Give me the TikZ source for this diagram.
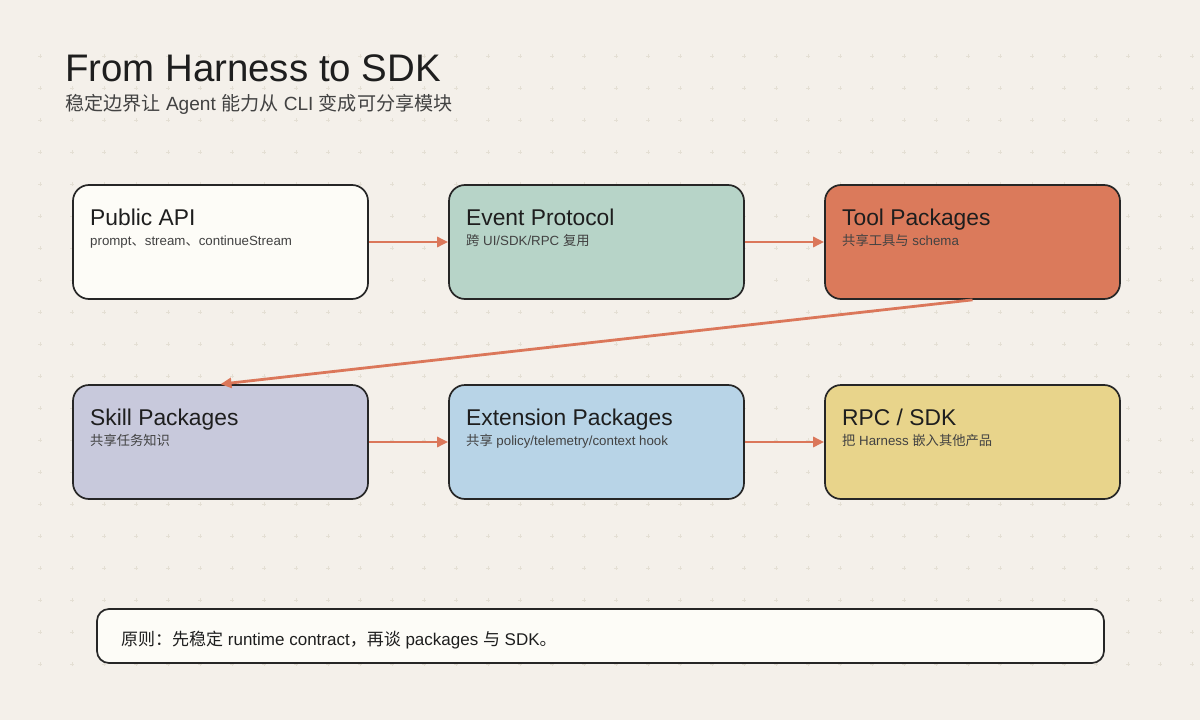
\documentclass[tikz,border=0pt]{standalone}
\usepackage{fontspec}
\setmainfont{Liberation Sans}
\newfontfamily\cjk{Noto Sans CJK SC}
\usetikzlibrary{arrows.meta}
\definecolor{paper}{HTML}{F4F0EA}
\definecolor{gridmark}{HTML}{E4DFD4}
\definecolor{ink}{HTML}{1E1E1E}
\definecolor{subink}{HTML}{424242}
\definecolor{edge}{HTML}{262626}
\definecolor{accent}{HTML}{DB775A}
\definecolor{cream}{HTML}{FDFCF7}
\definecolor{sage}{HTML}{B7D4C8}
\definecolor{coral}{HTML}{DB7A5B}
\definecolor{lilac}{HTML}{C8C9DC}
\definecolor{sky}{HTML}{B8D4E7}
\definecolor{straw}{HTML}{E8D48B}
\tikzstyle{card} = [rectangle, rounded corners=16pt, minimum width=295pt, minimum height=114pt, draw=edge, line width=1.7pt, inner sep=0pt]
\tikzstyle{principle} = [rectangle, rounded corners=12pt, minimum width=1007pt, minimum height=54pt, draw=edge, line width=1.7pt, inner sep=0pt, fill=cream]
\tikzstyle{cardtitle} = [anchor=base west, inner sep=0pt, text=ink, font=\fontsize{22.8}{27}\selectfont]
\tikzstyle{cardnote} = [anchor=base west, inner sep=0pt, text=subink, font=\fontsize{13.3}{16}\selectfont]
\tikzstyle{arrow} = [line width=2.8pt, draw=accent, -{Triangle[length=11pt,width=10pt]}]

\begin{document}
\begin{tikzpicture}[x=1pt, y=-1pt]
            \useasboundingbox (0,0) rectangle (1200,720);
            \fill [paper] (0,0) rectangle (1200,720);
            % background marks
            \foreach \gx in {40,72,...,1192}
                \foreach \gy in {56,88,...,664}
                    \draw [gridmark, line width=0.5pt] (\gx-2,\gy) -- (\gx+2,\gy) (\gx,\gy-2) -- (\gx,\gy+2);

            \node [anchor=base west, inner sep=0pt, text=ink, font=\fontsize{38.4}{44}\selectfont] at (65,81.5) (heading) {From Harness to SDK};
            \node [anchor=base west, inner sep=0pt, text=subink, font=\fontsize{19.1}{22}\selectfont] at (65,110) (subheading) {{\cjk 稳定边界让} Agent {\cjk 能力从} CLI {\cjk 变成可分享模块}};

            % first row
            \node [card, fill=cream] at (220.5,242) (api) {};
            \node [cardtitle] at (90,225) (apititle) {Public API};
            \node [cardnote] at (90,245) (apinote) {prompt{\cjk 、}stream{\cjk 、}continueStream};

            \node [card, fill=sage] at (596.5,242) (events) {};
            \node [cardtitle] at (466,225) (eventstitle) {Event Protocol};
            \node [cardnote] at (466,245) (eventsnote) {{\cjk 跨} UI/SDK/RPC {\cjk 复用}};

            \node [card, fill=coral] at (972.5,242) (tools) {};
            \node [cardtitle] at (842,225) (toolstitle) {Tool Packages};
            \node [cardnote] at (842,245) (toolsnote) {{\cjk 共享工具与} schema};

            % second row
            \node [card, fill=lilac] at (220.5,442) (skills) {};
            \node [cardtitle] at (90,425) (skillstitle) {Skill Packages};
            \node [cardnote] at (90,445) (skillsnote) {{\cjk 共享任务知识}};

            \node [card, fill=sky] at (596.5,442) (extensions) {};
            \node [cardtitle] at (466,425) (extensionstitle) {Extension Packages};
            \node [cardnote] at (466,445) (extensionsnote) {{\cjk 共享} policy/telemetry/context hook};

            \node [card, fill=straw] at (972.5,442) (rpc) {};
            \node [cardtitle] at (842,425) (rpctitle) {RPC / SDK};
            \node [cardnote] at (842,445) (rpcnote) {{\cjk 把} Harness {\cjk 嵌入其他产品}};

            \draw [arrow] (api) -- (events);
            \draw [arrow] (events) -- (tools);
            \draw [arrow] (tools.south) -- (skills.north);
            \draw [arrow] (skills) -- (extensions);
            \draw [arrow] (extensions) -- (rpc);

            \node [principle] at (600.5,636) (rule) {};
            \node [anchor=base west, inner sep=0pt, text=ink, font=\fontsize{17}{20}\selectfont] at (121,645) (ruletext) {{\cjk 原则：先稳定} runtime contract{\cjk ，再谈} packages {\cjk 与} SDK{\cjk 。}};
            \end{tikzpicture}
\end{document}
